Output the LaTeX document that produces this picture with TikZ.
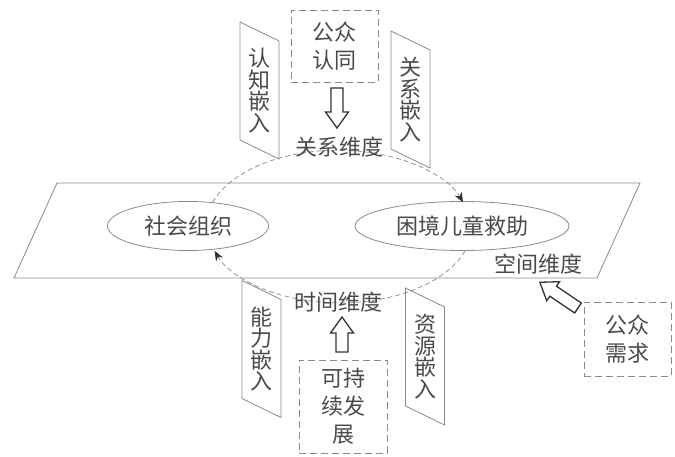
\documentclass[tikz,border=0pt]{standalone}
\usepackage{fontspec}
\setmainfont{Noto Sans CJK SC}
\usepackage{tikz}
\usetikzlibrary{arrows.meta,positioning,calc,shapes.geometric}
\definecolor{linegray}{HTML}{8A8A8A}
\definecolor{textgray}{HTML}{4A4A4A}
\definecolor{arrowdark}{HTML}{333333}
\tikzset{
  plane/.style={draw=linegray,line width=0.8pt},
  actor/.style={draw=linegray,ellipse,line width=0.8pt,inner sep=0pt},
  dimarc/.style={draw=linegray,dash pattern=on 5pt off 3pt,line width=0.7pt,-{Stealth[length=10pt,width=8pt,color=arrowdark]}},
  dashbox/.style={draw=linegray,dash pattern=on 7pt off 4pt,line width=0.8pt,align=center,inner sep=0pt},
  vlabel/.style={align=center,font=\fontsize{22}{21.5}\selectfont},
  panel/.style={draw=linegray,line width=0.8pt},
  arrowline/.style={draw=arrowdark,fill=white,line width=1.3pt,line join=miter},
  pics/hollow arrow/.style={code={
    \draw[arrowline] (0,-6) -- (#1-16,-6) -- (#1-16,-11.5) -- (#1,0) -- (#1-16,11.5) -- (#1-16,6) -- (0,6) -- cycle;}}
}
\newcommand{\embedpanel}[1]{\draw[panel] ($(#1)+(-19.5,68.5)$) -- ++(39,-19) -- ++(0,-118) -- ++(-39,19) -- cycle;}

\begin{document}
\begin{tikzpicture}[x=1pt,y=1pt,text=textgray,font=\fontsize{22}{28}\selectfont]
\useasboundingbox (0,0) rectangle (675,456);
% plane
\draw[plane] (57,273) -- (640,273) -- (597,178) -- (14,178) -- cycle;
\node[actor,minimum width=161pt,minimum height=49pt] (org) at (188,230) {社会组织};
\node[actor,minimum width=214pt,minimum height=49pt] (child) at (462,230) {困境儿童救助};
\node (space) at (538,192) {空间维度};
% dimensions
\draw[dimarc] (org.44) arc[start angle=161.6,end angle=18.4,x radius=132,y radius=76];
\draw[dimarc] (child.-83) arc[start angle=-18.4,end angle=-161.6,x radius=132,y radius=76];
\node (rel) at (339,309) {关系维度};
\node (time) at (338,154) {时间维度};
% boxes
\node[dashbox,minimum width=87pt,minimum height=72pt] (pubid) at (334.5,410) {公众\\认同};
\node[dashbox,minimum width=88pt,minimum height=93pt] (sustain) at (343,49.5) {可持\\续发\\展};
\node[dashbox,minimum width=87pt,minimum height=74pt] (pubneed) at (627.5,117) {公众\\需求};
\pic[rotate=-90] at (337,368) {hollow arrow=40};
\pic[rotate=90] at (342,104) {hollow arrow=35};
\pic[rotate=146] at (578,148) {hollow arrow=46};
% embedding
\node[vlabel] (cog) at (259.5,365.5) {认\\知\\嵌\\入};
\node[vlabel] (tie) at (410.5,356.5) {关\\系\\嵌\\入};
\node[vlabel] (cap) at (261.5,107) {能\\力\\嵌\\入};
\node[vlabel] (res) at (425,99.5) {资\\源\\嵌\\入};
\foreach \p in {cog,tie,cap,res} \embedpanel{\p};
\end{tikzpicture}
\end{document}
